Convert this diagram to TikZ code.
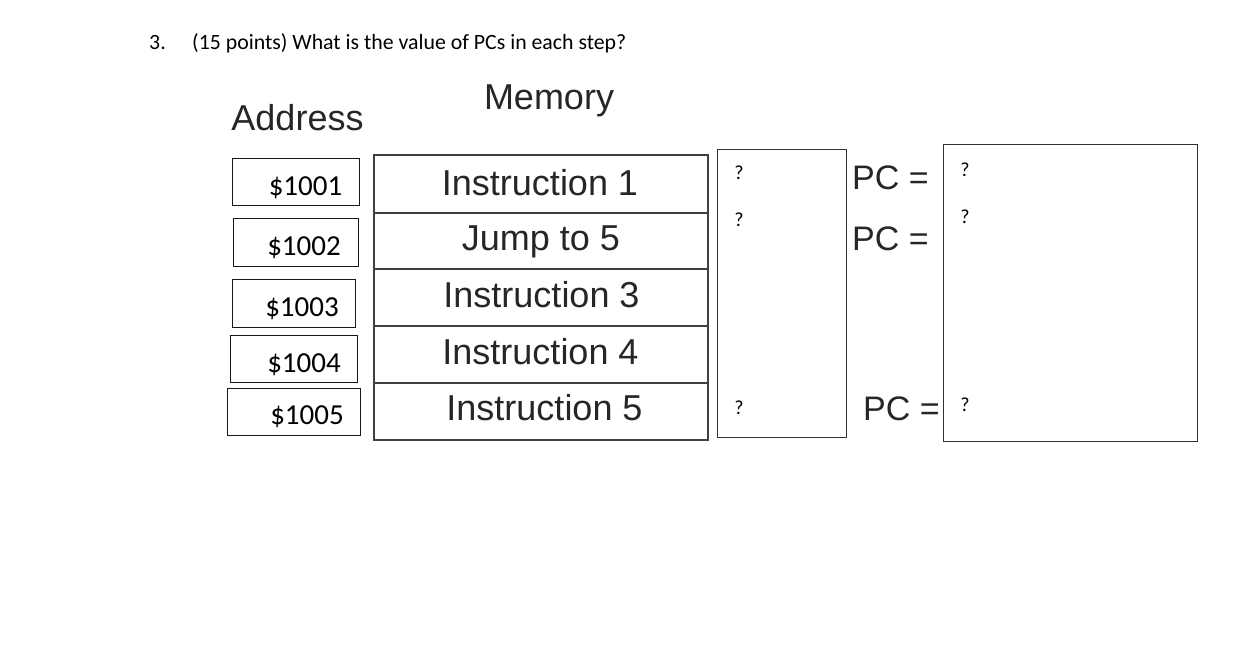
\documentclass[tikz,border=0pt]{standalone}
\usepackage{fontspec}
\setmainfont{Carlito}
\newfontfamily\arialfont{Liberation Sans}
\begin{document}
\begin{tikzpicture}[x=1pt,y=-1pt,
  title/.style={anchor=base west,inner sep=0,font=\fontsize{21.8}{24}\selectfont},
  head/.style={anchor=base,inner sep=0,text=black!85,font=\arialfont\fontsize{36}{40}\selectfont},
  abox/.style={draw=black!90,line width=1pt,inner sep=0,outer sep=0},
  atext/.style={anchor=base,inner sep=0,font=\fontsize{29}{32}\selectfont},
  mrow/.style={draw=black!75,line width=2.8pt,inner sep=0,outer sep=0,minimum width=334,minimum height=57},
  mtext/.style={anchor=base,inner sep=0,text=black!85,font=\arialfont\fontsize{36}{40}\selectfont},
  pbox/.style={draw=black!80,line width=1pt,inner sep=0,outer sep=0},
  pc/.style={anchor=base west,inner sep=0,text=black!85,font=\arialfont\fontsize{34}{38}\selectfont},
  qm/.style={inner sep=0,font=\fontsize{20}{22}\selectfont}]
\useasboundingbox (0,0) rectangle (1246,645);
% title
\node[title] (num) at (149,49) {3.};
\node[title] (q) at (192,49) {(15 points) What is the value of PCs in each step?};
% headings
\node[head] (addr) at (297.5,130) {Address};
\node[head] (mem) at (549,109) {Memory};
% address boxes
\node[abox,minimum width=127,minimum height=47] (a1) at (295.5,181.5) {};
\node[abox,minimum width=125,minimum height=48] (a2) at (295.5,242) {};
\node[abox,minimum width=123,minimum height=48] (a3) at (293.5,303) {};
\node[abox,minimum width=127,minimum height=47] (a4) at (293.5,358.5) {};
\node[abox,minimum width=133,minimum height=47] (a5) at (293.5,411.5) {};
\node[atext] (t1) at (305.5,195) {\$1001};
\node[atext] (t2) at (304,255) {\$1002};
\node[atext] (t3) at (302,316) {\$1003};
\node[atext] (t4) at (304,372) {\$1004};
\node[atext] (t5) at (307,424) {\$1005};
% memory column
\node[mrow,minimum height=58] (m1) at (541,184) {};
\node[mrow,minimum height=56] (m2) at (541,241) {};
\node[mrow] (m3) at (541,297.5) {};
\node[mrow] (m4) at (541,354.5) {};
\node[mrow] (m5) at (541,411.5) {};
\node[mtext] (i1) at (540,195) {Instruction 1};
\node[mtext] (i2) at (541,250) {Jump to 5};
\node[mtext] (i3) at (541.5,307) {Instruction 3};
\node[mtext] (i4) at (540.5,364) {Instruction 4};
\node[mtext] (i5) at (544.5,420) {Instruction 5};
% step box
\node[pbox,minimum width=129,minimum height=288] (sa) at (781.5,293) {};
\node[qm] (qa1) at (739,173) {?};
\node[qm] (qa2) at (739,220) {?};
\node[qm] (qa3) at (739,408) {?};
% PC labels
\node[pc] (pc1) at (852,189) {PC =};
\node[pc] (pc2) at (852,250) {PC =};
\node[pc] (pc3) at (863,420) {PC =};
% PC box
\node[pbox,minimum width=254,minimum height=297] (sb) at (1070,292.5) {};
\node[qm] (qb1) at (965,170) {?};
\node[qm] (qb2) at (965,217) {?};
\node[qm] (qb3) at (965,405) {?};
\end{tikzpicture}
\end{document}
